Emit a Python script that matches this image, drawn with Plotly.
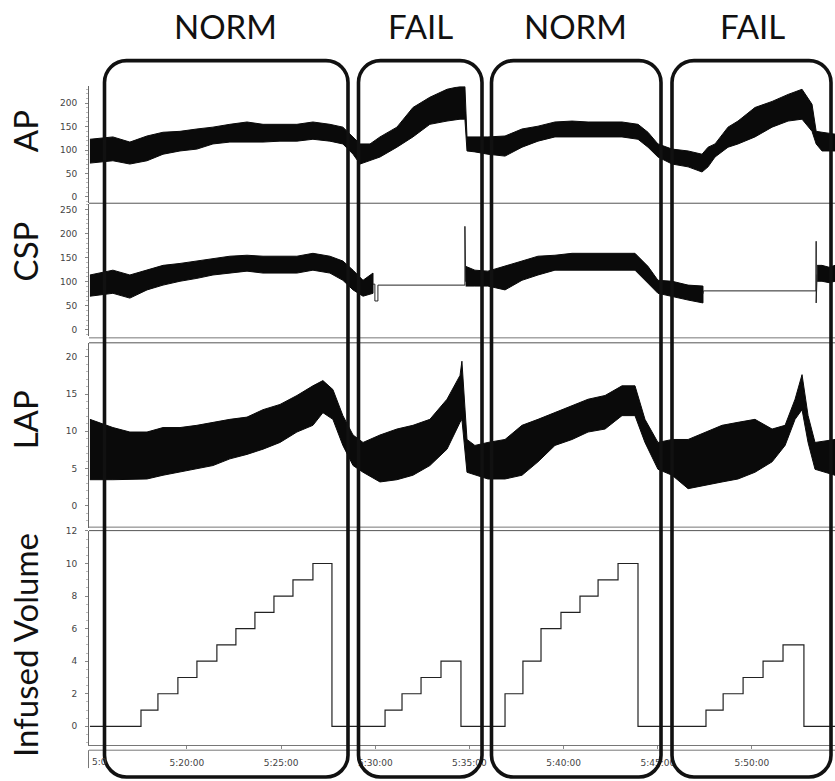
import plotly.graph_objects as go

# ---------------- data (time in minutes after 5:00) ----------------
ap_t = [14.85, 16.07, 16.97, 17.88, 18.73, 19.63, 20.53, 21.38, 22.28, 23.19, 24.04, 24.94, 25.84, 26.69,
        27.59, 28.28, 28.82, 29.19, 29.72, 30.25, 31.15, 32.00, 32.90, 33.81, 34.50, 34.76, 34.87, 35.29,
        35.98, 36.89, 37.79, 38.64, 39.54, 40.45, 41.30, 42.20, 43.10, 43.95, 44.48, 45.01, 45.76, 46.61,
        47.35, 47.67, 48.04, 48.73, 49.26, 50.16, 51.07, 51.92, 52.66, 53.19, 53.41, 53.72, 54.41]
ap_hi = [123, 128, 117, 130, 138, 140, 145, 149, 155, 160, 155, 155, 155, 160, 155, 149, 128, 113, 113, 128,
         149, 191, 213, 230, 236, 236, 128, 128, 128, 130, 145, 151, 160, 162, 160, 160, 160, 155, 138, 113,
         102, 98, 91, 106, 113, 149, 162, 191, 204, 219, 230, 198, 140, 138, 134]
ap_lo = [72, 77, 70, 77, 91, 98, 102, 113, 117, 117, 117, 119, 119, 123, 119, 113, 91, 70, 77, 85,
         106, 128, 155, 162, 166, 166, 98, 96, 91, 87, 106, 119, 128, 128, 128, 128, 128, 123, 106, 85,
         70, 64, 53, 64, 85, 106, 113, 128, 149, 162, 166, 140, 113, 98, 98]

csp_a_t = [14.85, 16.07, 16.97, 17.88, 18.73, 19.63, 20.53, 21.38, 22.28, 23.19, 24.04, 24.94, 25.84,
           26.69, 27.59, 28.28, 28.82, 29.35, 29.88]
csp_a_hi = [114, 124, 114, 124, 134, 138, 143, 149, 153, 155, 153, 153, 153, 159, 153, 143, 124, 103, 118]
csp_a_lo = [70, 76, 66, 83, 93, 101, 107, 114, 118, 122, 118, 118, 118, 124, 118, 103, 83, 70, 76]
csp_b_t = [34.80, 35.29, 35.98, 36.89, 37.79, 38.64, 39.54, 40.45, 41.30, 42.20, 43.10, 43.79, 44.48,
           45.01, 45.76, 46.61, 47.40]
csp_b_hi = [132, 124, 122, 132, 143, 153, 155, 159, 159, 159, 159, 159, 132, 103, 101, 93, 91]
csp_b_lo = [91, 91, 91, 83, 103, 114, 124, 124, 124, 124, 124, 124, 97, 76, 70, 62, 56]
csp_c_t = [53.46, 53.72, 54.10, 54.41]
csp_c_hi = [134, 134, 130, 134]
csp_c_lo = [101, 101, 98, 101]
csp_flat1_t = [29.88, 29.98, 29.98, 30.14, 30.14, 34.76, 34.76, 34.80]
csp_flat1_v = [95, 95, 60, 60, 93, 93, 215, 100]
csp_flat2_t = [47.40, 47.42, 53.40, 53.41, 53.41, 53.46]
csp_flat2_v = [75, 81, 81, 184, 56, 115]

lap_t = [14.85, 16.07, 16.97, 17.88, 18.73, 19.63, 20.53, 21.38, 22.28, 23.19, 24.04, 24.94, 25.84, 26.69,
         27.22, 27.75, 28.28, 28.82, 29.35, 30.25, 31.15, 32.00, 32.90, 33.81, 34.50, 34.60, 34.87, 35.29,
         35.98, 36.89, 37.79, 38.64, 39.54, 40.45, 41.30, 42.20, 43.10, 43.79, 44.32, 45.01, 45.76, 46.61,
         47.51, 48.41, 49.26, 50.16, 51.07, 51.76, 52.29, 52.66, 52.98, 53.35, 54.41]
lap_hi = [11.6, 10.5, 9.9, 9.9, 10.5, 10.5, 10.8, 11.2, 11.6, 11.9, 12.9, 13.6, 14.8, 16.1, 16.8, 15.6, 12.1,
          9.5, 8.5, 9.5, 10.3, 10.8, 11.6, 14.3, 17.5, 19.4, 8.9, 8.1, 8.5, 8.9, 10.8, 11.6, 12.5, 13.5, 14.3,
          14.8, 16.1, 16.1, 11.6, 8.5, 8.9, 8.9, 9.9, 10.8, 11.2, 11.6, 10.3, 10.8, 14.3, 17.6, 12.1, 8.5, 8.9]
lap_lo = [3.5, 3.5, 3.5, 3.6, 4.1, 4.5, 5.0, 5.4, 6.3, 6.9, 7.6, 8.5, 9.9, 10.8, 12.5, 11.6, 8.1, 5.4, 4.5,
          3.2, 3.5, 4.1, 5.4, 7.6, 11.2, 11.6, 4.5, 4.1, 3.6, 3.6, 4.1, 5.9, 8.1, 8.9, 9.9, 10.3, 12.1, 12.1,
          8.5, 4.9, 4.1, 2.3, 2.8, 3.2, 3.6, 4.5, 5.9, 8.1, 11.6, 12.9, 8.5, 4.9, 4.1]

vol_t = [14.85, 17.56, 18.46, 19.52, 20.53, 21.59, 22.60, 23.61, 24.62, 25.63, 26.69, 27.70,
         30.52, 31.42, 32.43, 33.49, 34.55,
         36.89, 37.84, 38.80, 39.86, 40.87, 41.83, 42.89, 43.95,
         47.56, 48.47, 49.53, 50.59, 51.65, 52.76, 54.41]
vol_v = [0, 1, 2, 3, 4, 5, 6, 7, 8, 9, 10, 0,
         1, 2, 3, 4, 0,
         2, 4, 6, 7, 8, 9, 10, 0,
         1, 2, 3, 4, 5, 0, 0]

x_tickvals = [20, 25, 30, 35, 40, 45, 50]
x_ticktext = ["5:20:00", "5:25:00", "5:30:00", "5:35:00", "5:40:00", "5:45:00", "5:50:00"]
x_first_label = "5:0"
panel_titles = ["AP", "CSP", "LAP", "Infused Volume"]
phase_labels = ["NORM", "FAIL", "NORM", "FAIL"]

# ---------------- geometry helpers (layout only) ----------------
W, H = 835, 781
PL = 89
PW = W - PL


def px(x):
    return (x - PL) / PW


def py(y):
    return 1 - y / H


def band(t, hi, lo, yaxis):
    return go.Scatter(x=list(t) + list(t)[::-1], y=list(hi) + list(lo)[::-1], fill="toself",
                      fillcolor="#0a0a0a", line=dict(color="#0a0a0a", width=1),
                      mode="lines", yaxis=yaxis, xaxis="x", hoverinfo="skip", showlegend=False)


fig = go.Figure()
fig.add_trace(band(ap_t, ap_hi, ap_lo, "y"))
fig.add_trace(band(csp_a_t, csp_a_hi, csp_a_lo, "y2"))
fig.add_trace(band(csp_b_t, csp_b_hi, csp_b_lo, "y2"))
fig.add_trace(band(csp_c_t, csp_c_hi, csp_c_lo, "y2"))
for tt, vv in [(csp_flat1_t, csp_flat1_v), (csp_flat2_t, csp_flat2_v)]:
    fig.add_trace(go.Scatter(x=tt, y=vv, mode="lines", line=dict(color="#222", width=1),
                             yaxis="y2", xaxis="x", showlegend=False))
fig.add_trace(band(lap_t, lap_hi, lap_lo, "y3"))
fig.add_trace(go.Scatter(x=vol_t, y=vol_v, mode="lines", line=dict(color="#222", width=1.2, shape="hv"),
                         yaxis="y4", xaxis="x", showlegend=False))

tickfont = dict(family="DejaVu Sans", size=9, color="#444")
yax_common = dict(showgrid=False, zeroline=False, showline=True, linecolor="#666", linewidth=1,
                  ticks="outside", ticklen=3, tickcolor="#888", tickfont=tickfont,
                  ticklabelstandoff=6,
                  minor=dict(ticks="outside", ticklen=2, tickcolor="#bbb"))

fig.update_layout(
    width=W, height=H, autosize=False,
    margin=dict(l=PL, r=0, t=0, b=0),
    paper_bgcolor="white", plot_bgcolor="white",
    showlegend=False,
    xaxis=dict(domain=[0, 1], range=[14.80, 54.41], anchor="y4", showgrid=False, zeroline=False,
               showline=True, linecolor="#777", linewidth=1,
               tickvals=x_tickvals, ticktext=x_ticktext, ticks="outside", ticklen=3,
               tickcolor="#888", tickfont=tickfont, ticklabelstandoff=6),
    yaxis=dict(domain=[py(199), py(82)], range=[-12.8, 236], dtick=50, tick0=0, **yax_common),
    yaxis2=dict(domain=[py(333), py(200)], range=[-12.4, 262], dtick=50, tick0=0, **yax_common),
    yaxis3=dict(domain=[py(526), py(340)], range=[-2.93, 21.87], dtick=5, tick0=0, **yax_common),
    yaxis4=dict(domain=[py(745), py(529)], range=[-1.16, 12.02], dtick=2, tick0=0, **yax_common),
)

shapes = []
# panel separator lines
for yy, col in [(199.5, "#555"), (335, "#777"), (340, "#555"), (525.5, "#777"), (529, "#555"),
                (750, "#777")]:
    shapes.append(dict(type="line", xref="paper", yref="paper", x0=px(89), x1=px(835),
                       y0=py(yy), y1=py(yy), line=dict(color=col, width=1), layer="below"))
shapes.append(dict(type="line", xref="paper", yref="paper", x0=px(88.5), x1=px(88.5),
                   y0=py(750), y1=py(768), line=dict(color="#777", width=1)))

# rounded phase boxes
K = 0.5523


def rrect(x0, y0, x1, y1, r):
    def P(x, y):
        return f"{px(x):.5f},{py(y):.5f}"
    k = K * r
    return (f"M {P(x0 + r, y0)} L {P(x1 - r, y0)} "
            f"C {P(x1 - r + k, y0)} {P(x1, y0 + r - k)} {P(x1, y0 + r)} "
            f"L {P(x1, y1 - r)} "
            f"C {P(x1, y1 - r + k)} {P(x1 - r + k, y1)} {P(x1 - r, y1)} "
            f"L {P(x0 + r, y1)} "
            f"C {P(x0 + r - k, y1)} {P(x0, y1 - r + k)} {P(x0, y1 - r)} "
            f"L {P(x0, y0 + r)} "
            f"C {P(x0, y0 + r - k)} {P(x0 + r - k, y0)} {P(x0 + r, y0)} Z")


for (bx0, bx1) in [(104.5, 348), (358.5, 482), (491.5, 661), (672, 831)]:
    shapes.append(dict(type="path", xref="paper", yref="paper", path=rrect(bx0, 56, bx1, 777, 22),
                       line=dict(color="#111", width=3.6), layer="above"))
fig.update_layout(shapes=shapes)

ann = []
for lab, cx in zip(phase_labels, [225, 420, 575, 752]):
    ann.append(dict(text=lab, xref="paper", yref="paper", x=px(cx), y=py(21), showarrow=False,
                    xanchor="center", yanchor="middle", font=dict(family="Lato", size=33, color="#111")))
for lab, cy in zip(panel_titles, [127, 248, 418, 644]):
    ann.append(dict(text=lab, xref="paper", yref="paper", x=px(25), y=py(cy), showarrow=False,
                    textangle=-90, xanchor="center", yanchor="middle",
                    font=dict(family="Lato", size=33, color="#111")))
ann.append(dict(text=x_first_label, xref="paper", yref="paper", x=px(90), y=py(762), showarrow=False,
                xanchor="left", yanchor="middle", font=tickfont))
fig.update_layout(annotations=ann)

fig.write_html("out.html", config={"displayModeBar": False},
               post_script="document.body.style.margin='0';document.body.style.overflow='hidden';")
